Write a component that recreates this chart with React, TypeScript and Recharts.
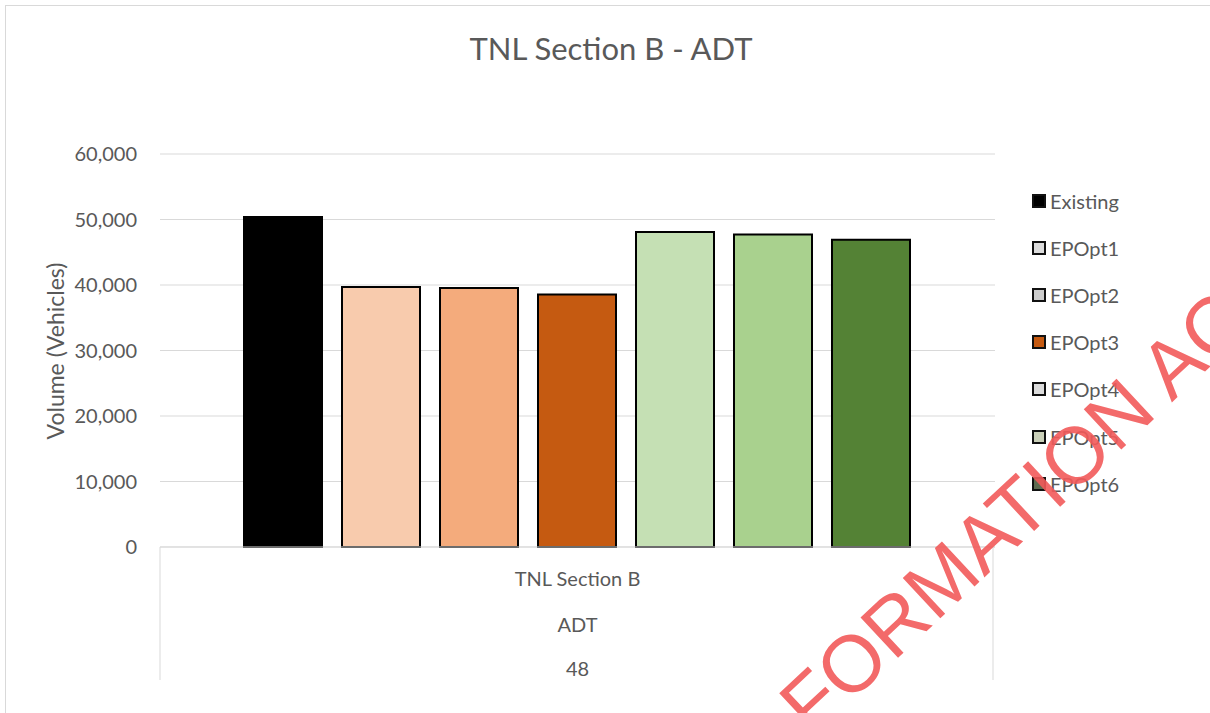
import React from 'react';
import { BarChart, Bar, XAxis, YAxis, CartesianGrid } from 'recharts';

// categories and multi-level axis labels
const categories = ['TNL Section B'];
const measures = ['ADT'];
const periods = ['48'];

// series
const seriesNames = ['Existing', 'EPOpt1', 'EPOpt2', 'EPOpt3', 'EPOpt4', 'EPOpt5', 'EPOpt6'];
const existing = [50400];
const epOpt1 = [39700];
const epOpt2 = [39550];
const epOpt3 = [38550];
const epOpt4 = [48100];
const epOpt5 = [47700];
const epOpt6 = [46900];

const yTicks = [0, 10000, 20000, 30000, 40000, 50000, 60000];

const seriesValues: Record<string, number[]> = {
  Existing: existing,
  EPOpt1: epOpt1,
  EPOpt2: epOpt2,
  EPOpt3: epOpt3,
  EPOpt4: epOpt4,
  EPOpt5: epOpt5,
  EPOpt6: epOpt6,
};

const barColors: Record<string, string> = {
  Existing: '#000000',
  EPOpt1: '#f8cbad',
  EPOpt2: '#f4ab7c',
  EPOpt3: '#c55a11',
  EPOpt4: '#c5e0b4',
  EPOpt5: '#a9d18e',
  EPOpt6: '#548235',
};

// the legend swatches in the original render greyish
const legendColors: Record<string, string> = {
  Existing: '#000000',
  EPOpt1: '#dcdcdc',
  EPOpt2: '#cccccc',
  EPOpt3: '#c55a11',
  EPOpt4: '#dcdcdc',
  EPOpt5: '#c9cfb8',
  EPOpt6: '#5e6b50',
};

const data = categories.map((name, i) => {
  const row: Record<string, string | number> = { name, measure: measures[i], period: periods[i] };
  seriesNames.forEach((s) => {
    row[s] = seriesValues[s][i];
  });
  return row;
});

const FONT = "Lato, 'Open Sans', sans-serif";
const TEXT = '#595959';
const GRID = '#d9d9d9';
const PLOT_W = 835;

const CategoryTick = (props: any) => {
  const { x, y, payload, index } = props;
  const row = data[index] || data[0];
  const half = PLOT_W / 2;
  return (
    <g>
      <line x1={x - half} y1={y} x2={x - half} y2={y + 133} stroke={GRID} />
      <line x1={x + half - 2} y1={y} x2={x + half - 2} y2={y + 133} stroke={GRID} />
      <text x={x} y={y + 31} textAnchor="middle" dominantBaseline="central" fill={TEXT} fontSize={20} fontFamily={FONT}>
        {payload.value}
      </text>
      <text x={x} y={y + 77} textAnchor="middle" dominantBaseline="central" fill={TEXT} fontSize={20} fontFamily={FONT}>
        {row.measure}
      </text>
      <text x={x} y={y + 121} textAnchor="middle" dominantBaseline="central" fill={TEXT} fontSize={20} fontFamily={FONT}>
        {row.period}
      </text>
    </g>
  );
};

const App = () => {
  return (
    <div style={{ position: 'absolute', left: 0, top: 0, width: 1210, height: 713, overflow: 'hidden', background: '#fff', fontFamily: FONT }}>
      {/* chart frame */}
      <div style={{ position: 'absolute', left: 5, top: 5, width: 1400, height: 900, border: `1px solid ${GRID}` }} />

      <div style={{ position: 'absolute', left: 0, top: 28, width: 1222, textAlign: 'center', fontSize: 31, color: TEXT, lineHeight: '40px' }}>
        TNL Section B - ADT
      </div>

      <div
        style={{
          position: 'absolute',
          left: 55,
          top: 351,
          transform: 'translate(-50%, -50%) rotate(-90deg)',
          fontSize: 23,
          color: TEXT,
          whiteSpace: 'nowrap',
        }}
      >
        Volume (Vehicles)
      </div>

      <div style={{ position: 'absolute', left: 0, top: 0 }}>
        <BarChart
          width={1210}
          height={713}
          data={data}
          margin={{ top: 154, right: 215, bottom: 26, left: 0 }}
          barCategoryGap={84}
          barGap={20}
        >
          <CartesianGrid horizontal vertical={false} stroke={GRID} />
          <XAxis
            dataKey="name"
            height={140}
            axisLine={{ stroke: GRID }}
            tickLine={false}
            tickSize={0}
            tickMargin={0}
            tick={(p: any) => <CategoryTick {...p} />}
          />
          <YAxis
            width={160}
            domain={[0, 60000]}
            ticks={yTicks}
            axisLine={false}
            tickLine={false}
            tickSize={0}
            tickMargin={23}
            tick={{ fill: TEXT, fontSize: 20, fontFamily: FONT }}
            tickFormatter={(v: number) => v.toLocaleString('en-US')}
          />
          {seriesNames.map((s) => (
            <Bar key={s} dataKey={s} fill={barColors[s]} stroke="#000" strokeWidth={2} isAnimationActive={false} />
          ))}
        </BarChart>
      </div>

      {/* legend */}
      <div style={{ position: 'absolute', left: 1032, top: 177 }}>
        {seriesNames.map((s) => (
          <div key={s} style={{ display: 'flex', alignItems: 'center', height: 47.2 }}>
            <span
              style={{
                display: 'inline-block',
                width: 10,
                height: 10,
                background: legendColors[s],
                border: '2px solid #111',
                marginRight: 4,
              }}
            />
            <span style={{ fontSize: 20, color: TEXT }}>{s}</span>
          </div>
        ))}
      </div>

      {/* watermark */}
      <svg width={1210} height={713} style={{ position: 'absolute', left: 0, top: 0, pointerEvents: 'none' }}>
        <text
          x={0}
          y={0}
          transform="translate(812 738) rotate(-43)"
          fontFamily="'Liberation Sans', Arial, sans-serif"
          fontSize={80}
          fill="#f25a5a"
          opacity={0.9}
        >
          FORMATION AC
        </text>
      </svg>
    </div>
  );
};

export default App;
